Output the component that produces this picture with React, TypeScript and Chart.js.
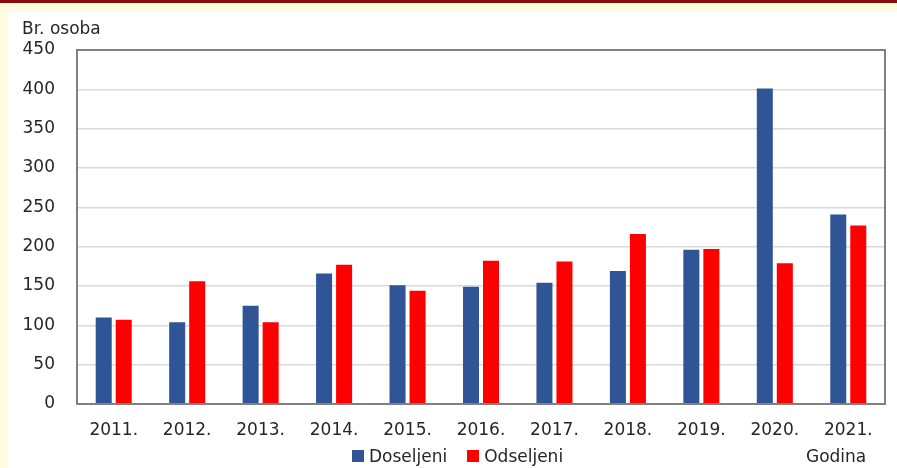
import React, { useEffect, useRef } from "react";
import { Chart, registerables } from "chart.js";

Chart.register(...registerables);

const categories = ["2011.", "2012.", "2013.", "2014.", "2015.", "2016.", "2017.", "2018.", "2019.", "2020.", "2021."];
const doseljeni = [110, 104, 125, 166, 151, 149, 154, 169, 196, 401, 241];
const odseljeni = [107, 156, 104, 177, 144, 182, 181, 216, 197, 179, 227];
const seriesNames = ["Doseljeni", "Odseljeni"];
const seriesColors = ["#2F5597", "#FF0000"];
const yTitle = "Br. osoba";
const xTitle = "Godina";

const FONT = "'DejaVu Sans', sans-serif";

const frame = {
  id: "frame",
  afterDraw(chart: any) {
    const { ctx, chartArea } = chart;
    ctx.save();
    ctx.strokeStyle = "#808080";
    ctx.lineWidth = 2;
    ctx.strokeRect(chartArea.left, chartArea.top, chartArea.right - chartArea.left, chartArea.bottom - chartArea.top);
    ctx.restore();
  },
};

export default function App() {
  const ref = useRef<HTMLCanvasElement>(null);
  useEffect(() => {
    document.body.style.margin = "0";
    const chart = new Chart(ref.current!, {
      type: "bar",
      data: {
        labels: categories,
        datasets: [
          { label: seriesNames[0], data: doseljeni, backgroundColor: seriesColors[0], categoryPercentage: 0.545, barPercentage: 0.8 },
          { label: seriesNames[1], data: odseljeni, backgroundColor: seriesColors[1], categoryPercentage: 0.545, barPercentage: 0.8 },
        ],
      },
      options: {
        animation: false,
        responsive: false,
        maintainAspectRatio: false,
        layout: { padding: { left: 0, right: 12, top: 38, bottom: 0 } },
        plugins: { legend: { display: false }, tooltip: { enabled: false } },
        scales: {
          x: {
            grid: { display: false, drawTicks: false },
            border: { color: "#808080", width: 2 },
            ticks: { color: "#262626", font: { family: FONT, size: 17 }, padding: 16, maxRotation: 0 },
            afterFit(scale: any) { scale.height = 64; },
          },
          y: {
            min: 0,
            max: 450,
            grid: {
              drawTicks: false,
              color: (c: any) => (c.tick && (c.tick.value === 0 || c.tick.value === 450) ? "rgba(0,0,0,0)" : "#D9D9D9"),
              lineWidth: 1.5,
            },
            border: { color: "#808080", width: 2 },
            ticks: { stepSize: 50, color: "#262626", font: { family: FONT, size: 17 }, padding: 22 },
            afterFit(scale: any) { scale.width = 69; },
          },
        },
      },
      plugins: [frame],
    });
    return () => chart.destroy();
  }, []);

  const legendItem = (i: number) => (
    <span style={{ display: "inline-flex", alignItems: "center", marginRight: i === 0 ? 20 : 0 }}>
      <span style={{ display: "inline-block", width: 12, height: 12, background: seriesColors[i], marginRight: 5 }} />
      <span>{seriesNames[i]}</span>
    </span>
  );

  return (
    <div style={{ position: "relative", width: 897, height: 468, background: "#FFFDE0", overflow: "hidden", fontFamily: FONT, color: "#262626" }}>
      <div style={{ position: "absolute", left: 0, top: 0, width: 897, height: 3, background: "#8B0A0A" }} />
      <div style={{ position: "absolute", left: 8, top: 12, width: 889, height: 456, background: "#FFFFFF" }}>
        <canvas ref={ref} width={889} height={456} style={{ width: 889, height: 456, display: "block" }} />
      </div>
      <div style={{ position: "absolute", left: 22, top: 18, fontSize: 17 }}>{yTitle}</div>
      <div style={{ position: "absolute", left: 352, top: 446, fontSize: 17, display: "flex", whiteSpace: "nowrap" }}>
        {legendItem(0)}
        {legendItem(1)}
      </div>
      <div style={{ position: "absolute", left: 806, top: 446, fontSize: 17 }}>{xTitle}</div>
    </div>
  );
}
